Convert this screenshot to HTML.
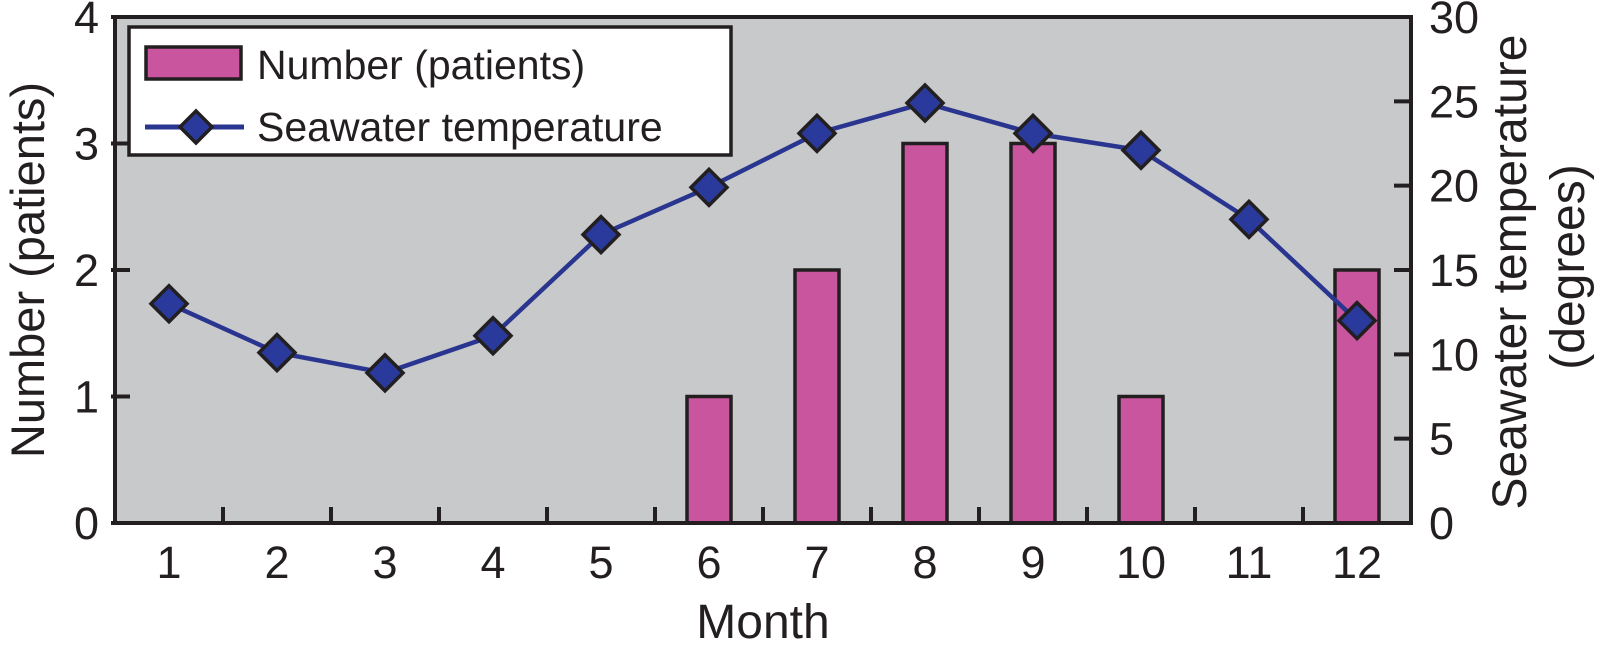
<!DOCTYPE html>
<html><head><meta charset="utf-8"><style>
body{margin:0;background:#fff}
svg{display:block;font-family:"Liberation Sans",Arial,sans-serif}
</style></head><body>
<svg id="chart" width="1609" height="663" viewBox="0 0 1609 663">
<rect x="115" y="17" width="1296" height="506" fill="#c8c9cb"/>
<g id="bars"></g>
<g id="line"></g>
<g id="axes"></g>
<text x="28" y="270" font-size="47" fill="#231f20" text-anchor="middle" transform="rotate(-90 28 270)" dy="16">Number (patients)</text>
<text x="1510" y="272" font-size="48" fill="#231f20" text-anchor="middle" transform="rotate(-90 1510 272)" dy="16">Seawater temperature</text>
<text x="1568" y="267" font-size="48" fill="#231f20" text-anchor="middle" transform="rotate(-90 1568 267)" dy="16">(degrees)</text>
<text x="763" y="638" font-size="48" fill="#231f20" text-anchor="middle">Month</text>
<g>
<rect x="129" y="27" width="602" height="128" fill="#fff" stroke="#231f20" stroke-width="3.5"/>
<rect x="146" y="47" width="95" height="32" fill="#c9559e" stroke="#231f20" stroke-width="3.5"/>
<text x="257" y="79" font-size="41" fill="#231f20">Number (patients)</text>
<line x1="145" y1="127" x2="244" y2="127" stroke="#2a3590" stroke-width="5"/>
<path d="M196,111 L212,127 L196,143 L180,127 Z" fill="#2a3a9c" stroke="#231f20" stroke-width="3.5"/>
<text x="257" y="141" font-size="41" fill="#231f20">Seawater temperature</text>
</g>
</svg>
<script>
const months = ["1","2","3","4","5","6","7","8","9","10","11","12"];
const patients = [0,0,0,0,0,1,2,3,3,1,0,2];
const seawaterTemp = [13,10.1,8.9,11.1,17.1,19.9,23.1,24.9,23.1,22.1,18.0,12.0];
const leftTicks = [0,1,2,3,4];
const rightTicks = [0,5,10,15,20,25,30];

const NS="http://www.w3.org/2000/svg";
const L=115,R=1411,T=17,B=523;
const band=(R-L)/months.length;
const xc=i=>L+band*(i+0.5);
const yL=v=>B-(v/4)*(B-T);
const yR=v=>B-(v/30)*(B-T);
function mk(tag,attrs,parent){const e=document.createElementNS(NS,tag);for(const k in attrs)e.setAttribute(k,attrs[k]);parent.appendChild(e);return e;}
const gb=document.getElementById('bars'),gl=document.getElementById('line'),ga=document.getElementById('axes');
const bw=44;
patients.forEach((v,i)=>{
  if(v<=0)return;
  const r=mk('rect',{x:xc(i)-bw/2,y:yL(v),width:bw,height:B-yL(v),fill:'#c9559e',stroke:'#231f20','stroke-width':3.5},gb);
  
  
});
const pts=seawaterTemp.map((v,i)=>xc(i)+','+yR(v)).join(' ');
const pl=mk('polyline',{points:pts,fill:'none',stroke:'#2a3590','stroke-width':4.5},gl);


seawaterTemp.forEach((v,i)=>{
  const x=xc(i),y=yR(v),s=18;
  const m=mk('path',{d:`M${x},${y-s} L${x+s},${y} L${x},${y+s} L${x-s},${y} Z`,fill:'#2a3a9c',stroke:'#231f20','stroke-width':3.5},gl);
  
  
});
const fr=mk('rect',{x:L,y:T,width:R-L,height:B-T,fill:'none',stroke:'#231f20','stroke-width':4},ga);


leftTicks.forEach(v=>{
  const y=yL(v);
  const t=mk('line',{x1:L-4,y1:y,x2:L+15,y2:y,stroke:'#231f20','stroke-width':4},ga);
  
  
  const tx=mk('text',{x:99,y:y+16,'font-size':45,fill:'#231f20','text-anchor':'end'},ga);
  tx.textContent=v;
  
  
});
rightTicks.forEach(v=>{
  const y=yR(v);
  const t=mk('line',{x1:R-17,y1:y,x2:R,y2:y,stroke:'#231f20','stroke-width':4},ga);
  
  
  const tx=mk('text',{x:1429,y:y+16,'font-size':45,fill:'#231f20','text-anchor':'start'},ga);
  tx.textContent=v;
  
  
});
months.forEach((m,i)=>{
  if(i>0){
    const x=L+band*i;
    const t=mk('line',{x1:x,y1:B,x2:x,y2:B-16,stroke:'#231f20','stroke-width':4},ga);
    
    
  }
  const tx=mk('text',{x:xc(i),y:578,'font-size':45,fill:'#231f20','text-anchor':'middle'},ga);
  tx.textContent=m;
  
  
});
</script>
</body></html>
